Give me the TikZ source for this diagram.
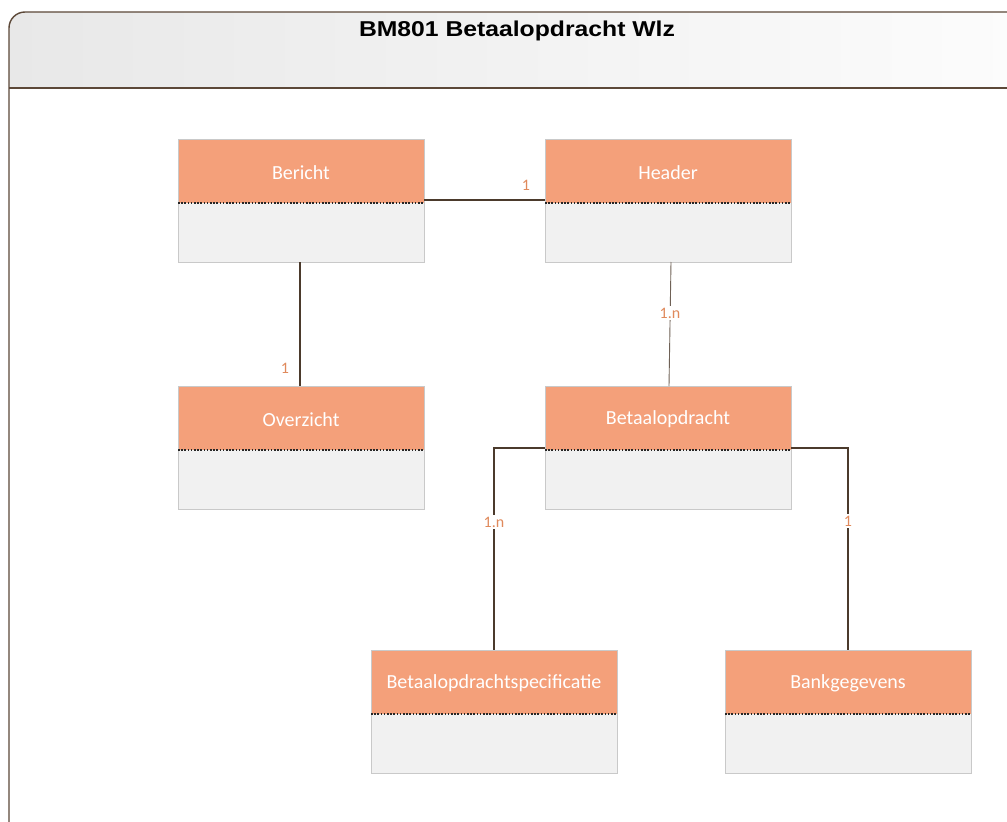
\documentclass[tikz,border=0pt]{standalone}
\usepackage{fontspec}
\setmainfont{Carlito}
\newfontfamily\titlefont{Liberation Sans}
\usetikzlibrary{calc}
\definecolor{frameC}{HTML}{5C4838}
\definecolor{lineC}{HTML}{4B3A2C}
\definecolor{headC}{HTML}{F4A07A}
\definecolor{bodyC}{HTML}{F1F1F1}
\definecolor{borderC}{HTML}{C9C9C9}
\definecolor{labC}{HTML}{E08A5C}
\tikzset{
  x=1pt,y=-1pt,
  conn/.style={draw=lineC,line width=1.6pt},
  connthin/.style={draw=lineC!80,line width=0.9pt},
  lab/.style={text=labC,font=\fontsize{16}{18}\selectfont,inner sep=1pt},
  labbg/.style={lab,fill=white,inner sep=2pt},
  boxtitle/.style={text=white,font=\fontsize{20}{23}\selectfont},
}
% #1 name, #2 left x, #3 top y, #4 text
\newcommand{\umlbox}[4]{%
  \fill[bodyC] (#2,#3) rectangle ++(246,123);
  \fill[headC] (#2,#3) rectangle ++(246,64);
  \draw[borderC,line width=1pt] (#2,#3) rectangle ++(246,123);
  \draw[black!85,line width=1.2pt,dash pattern=on 1.6pt off 1.6pt] ($(#2,#3)+(0,64)$) -- ++(246,0);
  \node[boxtitle] (#1) at ($(#2,#3)+(123,33.5)$) {#4};
}
\begin{document}
\begin{tikzpicture}
\useasboundingbox (0,0) rectangle (1007,822);
\fill[white] (0,0) rectangle (1007,822);
% frame header band with gradient
\shade[left color=black!9,right color=black!1,rounded corners=16pt] (9,88) -- (9,12) -- (1040,12) [sharp corners] -- (1040,88) -- cycle;
\draw[frameC,line width=1.4pt,rounded corners=16pt] (9,830) -- (9,12) -- (1040,12);
\draw[frameC,line width=1.4pt] (9,88) -- (1010,88);
\node[font=\titlefont\bfseries\fontsize{21.5}{24}\selectfont] (title) at (517,31) {\scalebox{1.15}[1]{BM801 Betaalopdracht Wlz}};

\umlbox{ber}{178}{139}{Bericht}
\umlbox{hdr}{545}{139}{Header}
\umlbox{ovz}{178}{386}{Overzicht}
\umlbox{bet}{545}{386}{Betaalopdracht}
\umlbox{spec}{371}{650}{Betaalopdrachtspecificatie}
\umlbox{bank}{725}{650}{Bankgegevens}

% connectors
\draw[conn] (424,200) -- (545,200);
\node[lab] at (526,185) {1};
\draw[conn] (300,262) -- (300,386);
\node[lab] at (285,368) {1};
\draw[connthin] (671,262) -- (669,386);
\node[labbg] at (670,313) {1.n};
\draw[conn] (545,448) -- (494,448) -- (494,650);
\node[labbg] at (494,522) {1.n};
\draw[conn] (791,448) -- (848,448) -- (848,650);
\node[labbg] at (848,521) {1};
\end{tikzpicture}
\end{document}
